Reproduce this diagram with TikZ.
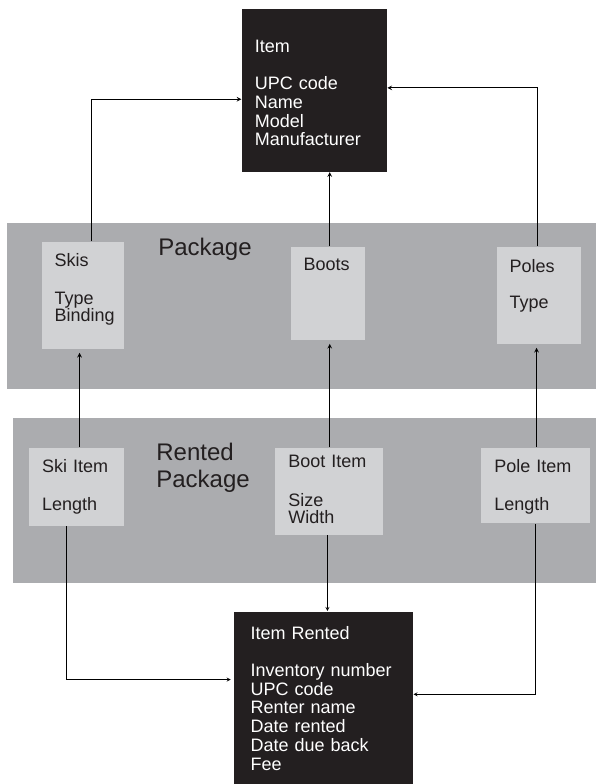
\documentclass[tikz,border=0pt]{standalone}
\usepackage{fontspec}
\setmainfont{Liberation Sans}
\definecolor{itemdark}{RGB}{35,31,32}
\definecolor{bandgray}{RGB}{171,172,175}
\definecolor{boxlight}{RGB}{209,210,212}
\begin{document}
\begin{tikzpicture}[x=1pt, y=-1pt, >=stealth, line width=1.1pt,
    darkbox/.style={fill=itemdark, text=white, anchor=north west, align=left,
      inner xsep=13pt, inner ysep=0pt, font=\fontsize{18}{18.7}\selectfont},
    lightbox/.style={fill=boxlight, text=itemdark, anchor=north west, align=left,
      inner xsep=13pt, inner ysep=0pt, font=\fontsize{18}{18.7}\selectfont},
    bandlabel/.style={text=itemdark, anchor=base west, align=left, inner sep=0pt,
      text width=110pt, font=\fontsize{24}{27.4}\selectfont}]
  \useasboundingbox (0,0) rectangle (596,784);

  % 1. The two grey bands
  \fill[bandgray] (6.8,223) rectangle (596,389);
  \fill[bandgray] (12.9,418) rectangle (596,583);
  \node[bandlabel] (pkglabel) at (157.7,255) {Package};
  \node[bandlabel] (rentlabel) at (155.8,460) {Rented\\Package};

  % 2. Item on top, Item Rented at the bottom
  \node[darkbox, text width=118.8pt, text height=43.7pt, text depth=119.3pt]
    (item) at (241.4,8) {Item\\[18.9pt]UPC code\\Name\\Model\\Manufacturer};
  \node[darkbox, inner xsep=17pt, text width=145.4pt, text height=28pt, text depth=145pt]
    (itemrented) at (233,611) {Item Rented\\[18.3pt]Inventory number\\UPC code\\Renter name\\Date rented\\Date due back\\Fee};

  % 3. Package parts
  \node[lightbox, text width=56.9pt, text height=25pt, text depth=82.7pt]
    (skis) at (41,241) {Skis\\[19.6pt]Type\\[-2pt]Binding};
  \node[lightbox, text width=48.1pt, text height=24pt, text depth=69.7pt]
    (boots) at (290,246) {Boots};
  \node[lightbox, text width=58.4pt, text height=26.3pt, text depth=71.4pt]
    (poles) at (496,246) {Poles\\[17.3pt]Type};

  % 4. Rented package parts
  \node[lightbox, text width=69.4pt, text height=24.7pt, text depth=53.3pt]
    (skiitem) at (28.5,447) {Ski Item\\[19.6pt]Length};
  \node[lightbox, text width=81.2pt, text height=20pt, text depth=67pt]
    (bootitem) at (274.8,447) {Boot Item\\[20.4pt]Size\\[-2pt]Width};
  \node[lightbox, text width=82.3pt, text height=24.7pt, text depth=51pt]
    (poleitem) at (480.8,447) {Pole Item\\[19.6pt]Length};

  % 5. Package parts up to Item
  \draw[->] ([xshift=8.75pt]skis.north) |- ([yshift=-9.2pt]item.west);
  \draw[->] ([xshift=2.15pt]boots.north) -- ([xshift=2.15pt]boots.north |- item.south);
  \draw[->] ([xshift=-1.2pt]poles.north) |- ([yshift=2.2pt]item.east);

  % 6. Rented parts up to package parts
  \foreach \from/\to/\dx in {skiitem/skis/2.8, bootitem/boots/0.8, poleitem/poles/1.05} {
    \draw[->, shorten >=3pt] ([xshift=\dx pt]\from.north) -- ([xshift=\dx pt]\from.north |- \to.south);
  }

  % 7. Rented parts down to Item Rented
  \draw[->, line width=0.8pt, shorten >=2.3pt] ([xshift=-10.4pt]skiitem.south) |- ([yshift=18.5pt]itemrented.west);
  \draw[->, line width=0.8pt] ([xshift=-1.5pt]bootitem.south) -- ([xshift=-1.5pt]bootitem.south |- itemrented.north);
  \draw[->, line width=0.8pt] (poleitem.south) |- ([yshift=3.8pt]itemrented.east);
\end{tikzpicture}
\end{document}
